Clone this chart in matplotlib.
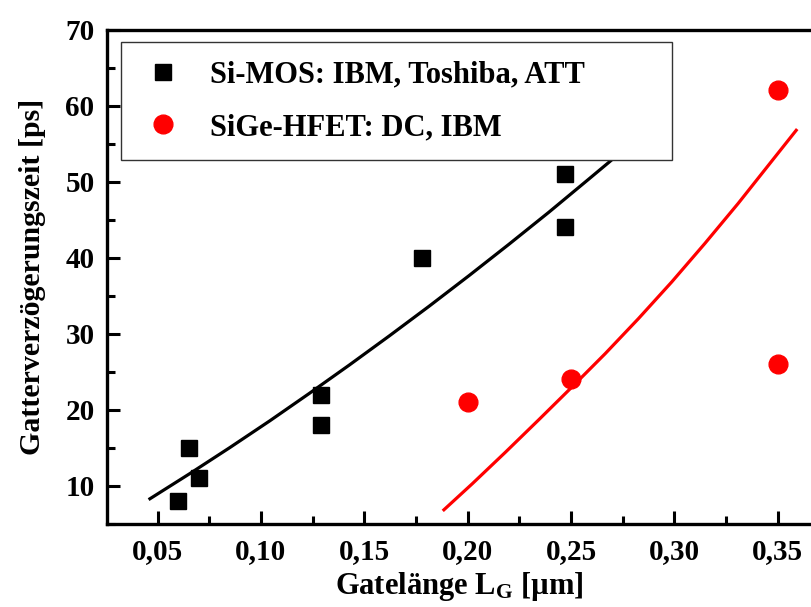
import numpy as np
import matplotlib.pyplot as plt
from matplotlib.ticker import MultipleLocator, FuncFormatter

plt.rcParams['font.family'] = 'Liberation Serif'
plt.rcParams['font.weight'] = 'bold'
plt.rcParams['mathtext.fontset'] = 'custom'
plt.rcParams['mathtext.rm'] = 'Liberation Serif:bold'
plt.rcParams['mathtext.default'] = 'rm'

# Messpunkte
lg_mos = [0.060, 0.065, 0.070, 0.129, 0.129, 0.178, 0.247, 0.247]
tau_mos = [8, 15, 11, 22, 18, 40, 51, 44]
lg_hfet = [0.20, 0.25, 0.35, 0.35]
tau_hfet = [21, 24, 62, 26]

# Ausgleichskurven
fit_mos_x = [0.0463, 0.0656, 0.0849, 0.1042, 0.1234, 0.1427, 0.1620,
             0.1813, 0.2006, 0.2199, 0.2392, 0.2584, 0.2681, 0.2874]
fit_mos_y = [8.32, 11.63, 15.04, 18.55, 22.17, 25.89, 29.71,
             33.62, 37.64, 41.76, 45.97, 50.30, 52.50, 56.97]
fit_hfet_x = [0.1885, 0.2022, 0.2183, 0.2344, 0.2504, 0.2665, 0.2826,
              0.2987, 0.3147, 0.3308, 0.3468, 0.3589]
fit_hfet_y = [6.87, 10.29, 14.45, 18.71, 23.0, 27.39, 32.0,
              36.82, 41.87, 47.13, 52.61, 56.75]

fig = plt.figure(figsize=(8.11, 6.07), dpi=100)
ax = fig.add_axes([0.132, 0.1367, 0.868, 0.8147])

ax.plot(fit_mos_x, fit_mos_y, color='black', lw=2.3, zorder=2)
ax.plot(fit_hfet_x, fit_hfet_y, color='red', lw=2.3, zorder=2)
ax.plot(lg_mos, tau_mos, 's', color='black', ms=12, ls='none',
        label='Si-MOS: IBM, Toshiba, ATT', zorder=3)
ax.plot(lg_hfet, tau_hfet, 'o', color='red', ms=13.5, ls='none',
        label='SiGe-HFET: DC, IBM', zorder=3)

ax.set_xlim(0.02555, 0.36606)
ax.set_ylim(5, 70)
ax.xaxis.set_major_locator(MultipleLocator(0.05))
ax.xaxis.set_minor_locator(MultipleLocator(0.025))
ax.yaxis.set_major_locator(MultipleLocator(10))
ax.yaxis.set_minor_locator(MultipleLocator(5))
ax.xaxis.set_major_formatter(FuncFormatter(lambda v, p: f'{v:.2f}'.replace('.', ',')))
ax.yaxis.set_major_formatter(FuncFormatter(lambda v, p: f'{v:.0f}'))

ax.tick_params(which='both', direction='in', width=2.2, labelsize=21,
               top=False, right=False)
ax.tick_params(which='major', length=9.5)
ax.tick_params(which='minor', length=6)
ax.tick_params(axis='x', pad=10)
ax.tick_params(axis='y', pad=9)

for s in ['left', 'bottom', 'top']:
    ax.spines[s].set_linewidth(2.4)
ax.spines['right'].set_visible(False)

ax.set_xlabel(r'Gatelänge L$_{G}$ [µm]', fontsize=22, fontweight='bold', labelpad=4)
ax.set_ylabel('Gatterverzögerungszeit [ps]', fontsize=21.5, fontweight='bold', labelpad=14)

leg = ax.legend(loc='upper left', bbox_to_anchor=(0.0195, 0.0, 0.783, 0.974),
                mode='expand', borderaxespad=0,
                fontsize=22, frameon=True, fancybox=False, edgecolor='#333333',
                framealpha=1, handletextpad=0.75, borderpad=0.6, labelspacing=0.76,
                handlelength=1.57)
leg.get_frame().set_linewidth(1.0)
leg.set_zorder(5)

fig.savefig('out.png', dpi=100)
